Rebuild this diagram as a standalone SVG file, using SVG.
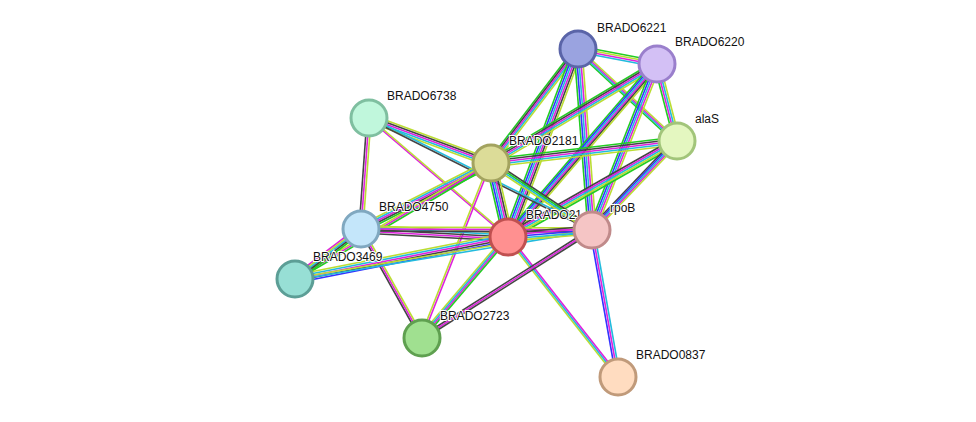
<svg xmlns="http://www.w3.org/2000/svg" xmlns:xlink="http://www.w3.org/1999/xlink" width="976" height="422" viewBox="0 0 976 422">
<style>
.g{stroke:#2c2}.b{stroke:#33f}.c{stroke:#2bd}.m{stroke:#d2d}.y{stroke:#bd3}.k{stroke:#444}
use{fill:none;stroke-width:1.6}
circle{stroke-width:3}
text{font-family:"Liberation Sans",Arial,sans-serif;font-size:12px;fill:#111;paint-order:stroke;stroke:#fff;stroke-width:2px}
</style>
<defs>
<path id="a1" d="M578,49L657,64"/><path id="a2" d="M578,49L677,141"/><path id="a3" d="M578,49L491,163"/><path id="a4" d="M578,49L508,237"/><path id="a5" d="M578,49L592,230"/>
<path id="b2" d="M657,64L677,141"/><path id="b3" d="M657,64L491,163"/><path id="b4" d="M657,64L508,237"/><path id="b5" d="M657,64L592,230"/>
<path id="c3" d="M677,141L491,163"/><path id="c4" d="M677,141L508,237"/><path id="c5" d="M677,141L592,230"/>
<path id="d1" d="M369,118L491,163"/><path id="d2" d="M369,118L361,229"/><path id="d3" d="M369,118L508,237"/><path id="d4" d="M369,118L592,230"/>
<path id="e1" d="M491,163L361,229"/><path id="e2" d="M491,163L508,237"/><path id="e3" d="M491,163L592,230"/><path id="e4" d="M491,163L295,279"/><path id="e5" d="M491,163L422,338"/>
<path id="f1" d="M361,229L508,237"/><path id="f2" d="M361,229L592,230"/><path id="f3" d="M361,229L295,279"/><path id="f4" d="M361,229L422,338"/>
<path id="h1" d="M295,279L508,237"/><path id="h2" d="M295,279L592,230"/>
<path id="i1" d="M508,237L592,230"/><path id="i2" d="M508,237L422,338"/><path id="i3" d="M508,237L618,377"/><path id="i4" d="M592,230L618,377"/><path id="i5" d="M592,230L422,338"/>
</defs>
<g id="edges">
<use href="#a1" class="g" transform="translate(0,-3)"/><use href="#a1" class="y" transform="translate(0,-1)"/><use href="#a1" class="m" transform="translate(0,1)"/><use href="#a1" class="c" transform="translate(0,3)"/>
<use href="#a2" class="g" transform="translate(-4,0)"/><use href="#a2" class="c" transform="translate(-2,0)"/><use href="#a2" class="m" transform="translate(0,0)"/><use href="#a2" class="y" transform="translate(2,0)"/>
<use href="#a3" class="g" transform="translate(-4,0)"/><use href="#a3" class="k" transform="translate(-2,0)"/><use href="#a3" class="m" transform="translate(0,0)"/><use href="#a3" class="c" transform="translate(2,0)"/><use href="#a3" class="y" transform="translate(4,0)"/>
<use href="#a4" class="g" transform="translate(-5,0)"/><use href="#a4" class="b" transform="translate(-3,0)"/><use href="#a4" class="c" transform="translate(-1,0)"/><use href="#a4" class="m" transform="translate(1,0)"/><use href="#a4" class="k" transform="translate(3,0)"/><use href="#a4" class="y" transform="translate(5,0)"/>
<use href="#a5" class="g" transform="translate(-4,0)"/><use href="#a5" class="b" transform="translate(-2,0)"/><use href="#a5" class="c" transform="translate(0,0)"/><use href="#a5" class="m" transform="translate(2,0)"/><use href="#a5" class="y" transform="translate(4,0)"/>
<use href="#b2" class="g" transform="translate(-3,0)"/><use href="#b2" class="m" transform="translate(-1,0)"/><use href="#b2" class="c" transform="translate(1,0)"/><use href="#b2" class="y" transform="translate(3,0)"/>
<use href="#b3" class="g" transform="translate(0,-4)"/><use href="#b3" class="k" transform="translate(0,-2)"/><use href="#b3" class="m" transform="translate(0,0)"/><use href="#b3" class="c" transform="translate(0,2)"/><use href="#b3" class="y" transform="translate(0,4)"/>
<use href="#b4" class="g" transform="translate(-5,0)"/><use href="#b4" class="b" transform="translate(-3,0)"/><use href="#b4" class="c" transform="translate(-1,0)"/><use href="#b4" class="m" transform="translate(1,0)"/><use href="#b4" class="k" transform="translate(3,0)"/><use href="#b4" class="y" transform="translate(5,0)"/>
<use href="#b5" class="g" transform="translate(-4,0)"/><use href="#b5" class="b" transform="translate(-2,0)"/><use href="#b5" class="c" transform="translate(0,0)"/><use href="#b5" class="m" transform="translate(2,0)"/><use href="#b5" class="y" transform="translate(4,0)"/>
<use href="#c3" class="g" transform="translate(0,-4)"/><use href="#c3" class="k" transform="translate(0,-2)"/><use href="#c3" class="m" transform="translate(0,0)"/><use href="#c3" class="c" transform="translate(0,2)"/><use href="#c3" class="y" transform="translate(0,4)"/>
<use href="#c4" class="k" transform="translate(0,-4)"/><use href="#c4" class="m" transform="translate(0,-2)"/><use href="#c4" class="c" transform="translate(0,0)"/><use href="#c4" class="y" transform="translate(0,2)"/><use href="#c4" class="g" transform="translate(0,4)"/>
<use href="#c5" class="k" transform="translate(-4,0)"/><use href="#c5" class="b" transform="translate(-2,0)"/><use href="#c5" class="c" transform="translate(0,0)"/><use href="#c5" class="m" transform="translate(2,0)"/><use href="#c5" class="y" transform="translate(4,0)"/>
<use href="#d1" class="y" transform="translate(0,-4)"/><use href="#d1" class="k" transform="translate(0,-2)"/><use href="#d1" class="m" transform="translate(0,0)"/><use href="#d1" class="c" transform="translate(0,2)"/><use href="#d1" class="y" transform="translate(0,4)"/>
<use href="#d2" class="k" transform="translate(-2,0)"/><use href="#d2" class="m" transform="translate(0,0)"/><use href="#d2" class="y" transform="translate(2,0)"/>
<use href="#d3" class="m" transform="translate(-1,0)"/><use href="#d3" class="y" transform="translate(1,0)"/>
<use href="#d4" class="c" transform="translate(0,-1)"/><use href="#d4" class="k" transform="translate(0,1)"/>
<use href="#e1" class="y" transform="translate(0,-4)"/><use href="#e1" class="c" transform="translate(0,-2)"/><use href="#e1" class="m" transform="translate(0,0)"/><use href="#e1" class="k" transform="translate(0,2)"/><use href="#e1" class="g" transform="translate(0,4)"/>
<use href="#e2" class="g" transform="translate(-5,0)"/><use href="#e2" class="b" transform="translate(-3,0)"/><use href="#e2" class="c" transform="translate(-1,0)"/><use href="#e2" class="m" transform="translate(1,0)"/><use href="#e2" class="k" transform="translate(3,0)"/><use href="#e2" class="y" transform="translate(5,0)"/>
<use href="#e3" class="k" transform="translate(0,-3)"/><use href="#e3" class="g" transform="translate(0,-1)"/><use href="#e3" class="c" transform="translate(0,1)"/><use href="#e3" class="y" transform="translate(0,3)"/>
<use href="#e4" class="y" transform="translate(0,-2)"/><use href="#e4" class="m" transform="translate(0,0)"/><use href="#e4" class="g" transform="translate(0,2)"/>
<use href="#e5" class="y" transform="translate(-2,0)"/><use href="#e5" class="m" transform="translate(0,0)"/>
<use href="#f1" class="y" transform="translate(0,-4)"/><use href="#f1" class="c" transform="translate(0,-2)"/><use href="#f1" class="k" transform="translate(0,0)"/><use href="#f1" class="m" transform="translate(0,2)"/><use href="#f1" class="k" transform="translate(0,4)"/>
<use href="#f2" class="y" transform="translate(0,-2)"/><use href="#f2" class="m" transform="translate(0,0)"/><use href="#f2" class="k" transform="translate(0,2)"/>
<use href="#f3" class="m" transform="translate(0,-4)"/><use href="#f3" class="y" transform="translate(0,-2)"/><use href="#f3" class="c" transform="translate(0,0)"/><use href="#f3" class="k" transform="translate(0,2)"/><use href="#f3" class="g" transform="translate(0,4)"/>
<use href="#f4" class="k" transform="translate(-2,0)"/><use href="#f4" class="m" transform="translate(0,0)"/><use href="#f4" class="y" transform="translate(2,0)"/>
<use href="#h1" class="y" transform="translate(0,-4)"/><use href="#h1" class="c" transform="translate(0,-2)"/><use href="#h1" class="m" transform="translate(0,0)"/><use href="#h1" class="k" transform="translate(0,2)"/><use href="#h1" class="b" transform="translate(0,4)"/>
<use href="#h2" class="y" transform="translate(0,-1)"/><use href="#h2" class="c" transform="translate(0,1)"/>
<use href="#i1" class="k" transform="translate(0,-4)"/><use href="#i1" class="m" transform="translate(0,-2)"/><use href="#i1" class="b" transform="translate(0,0)"/><use href="#i1" class="c" transform="translate(0,2)"/><use href="#i1" class="y" transform="translate(0,4)"/>
<use href="#i2" class="y" transform="translate(-4,0)"/><use href="#i2" class="c" transform="translate(-2,0)"/><use href="#i2" class="m" transform="translate(0,0)"/><use href="#i2" class="g" transform="translate(2,0)"/>
<use href="#i3" class="y" transform="translate(-2,0)"/><use href="#i3" class="c" transform="translate(0,0)"/><use href="#i3" class="m" transform="translate(2,0)"/>
<use href="#i4" class="b" transform="translate(-2,0)"/><use href="#i4" class="m" transform="translate(0,0)"/><use href="#i4" class="c" transform="translate(2,0)"/>
<use href="#i5" class="k" transform="translate(0,-2)"/><use href="#i5" class="m" transform="translate(0,0)"/><use href="#i5" class="k" transform="translate(0,2)"/>
</g>
<g id="BRADO6221"><circle cx="578" cy="49" r="18" fill="#9aa3e0" stroke="#5a64a8"/><text x="597" y="32">BRADO6221</text></g>
<g id="BRADO6220"><circle cx="657" cy="64" r="18" fill="#d3c0f5" stroke="#9a7fcc"/><text x="675" y="46">BRADO6220</text></g>
<g id="alaS"><circle cx="677" cy="141" r="18" fill="#e4f7c0" stroke="#a2c57a"/><text x="695" y="123">alaS</text></g>
<g id="BRADO6738"><circle cx="369" cy="118" r="18" fill="#c0f7dc" stroke="#7fbfa0"/><text x="387" y="100">BRADO6738</text></g>
<g id="BRADO2181"><circle cx="491" cy="163" r="18" fill="#dcdc98" stroke="#a3a35f"/><text x="509" y="145">BRADO2181</text></g>
<g id="BRADO4750"><circle cx="361" cy="229" r="18" fill="#c4e6fa" stroke="#80a8c0"/><text x="379" y="211">BRADO4750</text></g>
<g id="BRADO3469"><circle cx="295" cy="279" r="18" fill="#97dfd5" stroke="#5c9e96"/><text x="313" y="261">BRADO3469</text></g>
<g id="BRADO2723"><circle cx="422" cy="338" r="18" fill="#a0e090" stroke="#5fa050"/><text x="440" y="320">BRADO2723</text></g>
<g id="BRADO21"><circle cx="508" cy="237" r="18" fill="#ff9090" stroke="#c05050"/><text x="526" y="219">BRADO21</text></g>
<g id="rpoB"><circle cx="592" cy="230" r="18" fill="#f5c5c5" stroke="#c08a8a"/><text x="610" y="212">rpoB</text></g>
<g id="BRADO0837"><circle cx="618" cy="377" r="18" fill="#ffdcc0" stroke="#c09a7a"/><text x="636" y="359">BRADO0837</text></g>
</svg>
